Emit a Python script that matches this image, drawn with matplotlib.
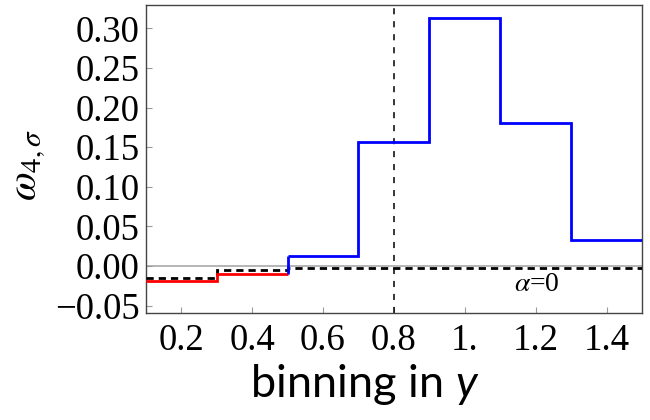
import matplotlib
matplotlib.use("Agg")
import matplotlib.pyplot as plt

# Step values per rapidity bin
red_edges = [0.1, 0.3, 0.5]
red_vals = [-0.019, -0.010]
blue_edges = [0.5, 0.7, 0.9, 1.1, 1.3, 1.5]
blue_vals = [0.012, 0.157, 0.313, 0.180, 0.0325]
alpha0_edges = [0.1, 0.3, 0.5, 1.5]
alpha0_vals = [-0.015, -0.005, -0.003]
y_cut = 0.8

xticks = [0.2, 0.4, 0.6, 0.8, 1.0, 1.2, 1.4]
xticklabels = ["0.2", "0.4", "0.6", "0.8", "1.", "1.2", "1.4"]
yticks = [-0.05, 0.0, 0.05, 0.10, 0.15, 0.20, 0.25, 0.30]
yticklabels = ["\u22120.05", "0.00", "0.05", "0.10", "0.15", "0.20", "0.25", "0.30"]

plt.rcParams["mathtext.fontset"] = "custom"
plt.rcParams["mathtext.rm"] = "Lato"
plt.rcParams["mathtext.it"] = "Lato:italic"

fig = plt.figure(figsize=(6.5, 4.2), dpi=100)
ax = fig.add_axes([0.2243, 0.2536, 0.7634, 0.7345])

ax.axhline(0.0, color="#b0b0b0", lw=1.3, zorder=1)
ax.axvline(y_cut, color="black", lw=1.1, ls=(0, (4, 4.5)), zorder=2)

ax.stairs(alpha0_vals, alpha0_edges, baseline=None, color="black", lw=2.0,
          ls=(0, (2.6, 1.8)), zorder=3)
ax.stairs(red_vals, red_edges, baseline=None, color="red", lw=2.0, zorder=4)
ax.vlines(blue_edges[0], red_vals[-1], blue_vals[0], color="blue", lw=2.0, zorder=4)
ax.stairs(blue_vals, blue_edges, baseline=None, color="blue", lw=2.0, zorder=4)

ax.text(1.204, -0.024, r"$\alpha$=0", fontsize=20, family="Liberation Serif",
        math_fontfamily="stix", ha="center", va="center")

ax.set_xlim(0.1, 1.5)
ax.set_ylim(-0.06, 0.3295)
ax.set_xticks(xticks)
ax.set_xticklabels(xticklabels)
ax.set_yticks(yticks)
ax.set_yticklabels(yticklabels)
ax.tick_params(direction="in", length=4, width=0.8, color="#999999",
               labelsize=26.5, top=False, right=False)
ax.tick_params(axis="x", pad=7.5)
ax.tick_params(axis="y", pad=4.5)
for lab in ax.get_xticklabels() + ax.get_yticklabels():
    lab.set_family("Liberation Serif")
for sp in ax.spines.values():
    sp.set_color("#444444")
    sp.set_linewidth(1.0)

fig.text(0.042, 0.607, r"$\omega_{4,\sigma}$", fontsize=30, rotation=90,
         math_fontfamily="stix", ha="center", va="center")
fig.text(0.5615, 0.055, r"binning in $y$", fontsize=32.5, family="Lato",
         ha="center", va="baseline")

fig.savefig("out.png", dpi=100)
